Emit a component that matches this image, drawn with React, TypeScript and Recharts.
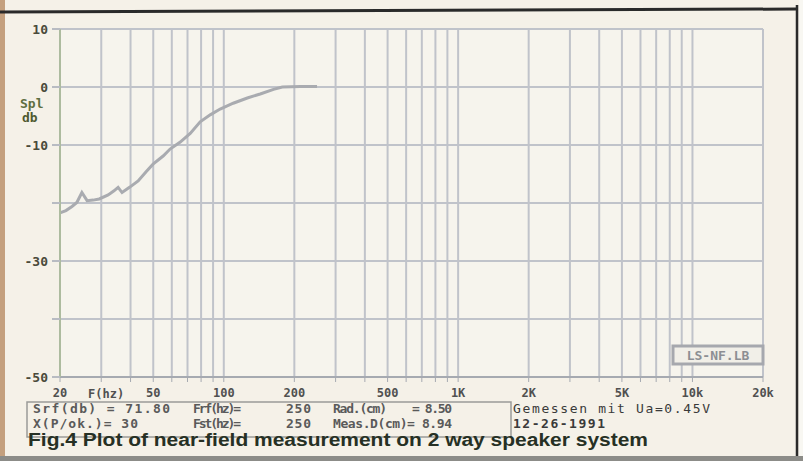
import React from 'react';
import { LineChart, Line, XAxis, YAxis, CartesianGrid } from 'recharts';

const freqHz = [20, 21.2, 22.5, 23.6, 24.8, 26.1, 27.7, 29.4, 32.1, 34.0, 35.4, 36.8, 39.6, 43.1, 46.6, 49.9, 55.1, 59, 65.2, 71.9, 79.3, 87.5, 96.5, 109.7, 126, 143, 163, 177.7, 212, 250];
const splDb = [-21.7, -21.3, -20.6, -19.9, -18.2, -19.6, -19.5, -19.3, -18.6, -17.9, -17.3, -18.2, -17.3, -16.2, -14.6, -13.3, -11.9, -10.7, -9.5, -8.0, -6.0, -4.8, -3.8, -2.8, -1.9, -1.2, -0.4, 0, 0.1, 0.1];

const gridFreqs = [20, 30, 40, 50, 60, 70, 80, 90, 100, 200, 300, 400, 500, 600, 700, 800, 900, 1000, 2000, 3000, 4000, 5000, 6000, 7000, 8000, 9000, 10000, 20000];
const labeledFreqs = [20, 50, 100, 200, 500, 1000, 2000, 5000, 10000, 20000];
const freqLabels = ['20', '50', '100', '200', '500', '1K', '2K', '5K', '10k', '20k'];
const dbTicks = [10, 0, -10, -20, -30, -40, -50];
const dbLabeled = [10, 0, -10, -30, -50];

const data = freqHz.map((f, i) => ({ f, db: splDb[i] }));

const mono = '"DejaVu Sans Mono", monospace';

const xFmt = (v: number) => {
  const i = labeledFreqs.indexOf(v);
  return i >= 0 ? freqLabels[i] : '';
};
const yFmt = (v: number) => (dbLabeled.includes(v) ? String(v) : '');

export default function App() {
  return (
    <div style={{ position: 'fixed', left: 0, top: 0, width: 803, height: 461, background: '#f5f1e8', overflow: 'hidden' }}>
      <div style={{ position: 'absolute', left: 0, top: 0 }}>
        <LineChart width={803} height={461} data={data} margin={{ top: 29, right: 40, bottom: 0, left: 0 }}>
          <CartesianGrid stroke="#c0c3ca" strokeWidth={2} fill="#f6f4ed" />
          <XAxis
            dataKey="f"
            type="number"
            scale="log"
            domain={[20, 20000]}
            allowDataOverflow
            ticks={gridFreqs}
            interval={0}
            tickFormatter={xFmt}
            height={84}
            tickSize={5}
            tickMargin={6}
            axisLine={{ stroke: '#a6aab1', strokeWidth: 2 }}
            tickLine={{ stroke: '#a6aab1' }}
            tick={{ fill: '#505050', fontFamily: mono, fontWeight: 'bold', fontSize: 12 }}
          />
          <YAxis
            type="number"
            domain={[-50, 10]}
            ticks={dbTicks}
            interval={0}
            tickFormatter={yFmt}
            width={60}
            tickSize={8}
            tickMargin={4}
            axisLine={{ stroke: '#adbb9f', strokeWidth: 2 }}
            tickLine={{ stroke: '#b8bbc2', strokeWidth: 2 }}
            tick={{ fill: '#4a4a3a', fontFamily: mono, fontWeight: 'bold', fontSize: 13 }}
          />
          <Line dataKey="db" type="linear" stroke="#a9abb0" strokeWidth={3} dot={false} isAnimationActive={false} />
        </LineChart>
      </div>
      <svg width={803} height={461} style={{ position: 'absolute', left: 0, top: 0, pointerEvents: 'none' }}>
        <rect x={0} y={0} width={5} height={461} fill="#c4a07e" />
        <line x1={0} y1={12} x2={796} y2={9} stroke="#2a2a2a" strokeWidth={3} />
        <line x1={797} y1={5} x2={797} y2={457} stroke="#2a2a2a" strokeWidth={2.5} />
        <rect x={799} y={0} width={4} height={461} fill="#f8f7f2" />
        <rect x={0} y={456} width={803} height={5} fill="#8c8c88" />
        <text x={20} y={108} fontFamily={mono} fontWeight="bold" fontSize={13} fill="#5e6e40">Spl</text>
        <text x={22} y={122} fontFamily={mono} fontWeight="bold" fontSize={13} fill="#4e5a30">db</text>
        <text x={88} y={398} fontFamily={mono} fontWeight="bold" fontSize={12} fill="#505050">F(hz)</text>
        <rect x={673} y={346} width={90} height={18} fill="#f1efe8" stroke="#a6a8ae" strokeWidth={3} />
        <text x={718} y={360} textAnchor="middle" fontFamily={mono} fontWeight="bold" fontSize={13} fill="#8c8e93">LS-NF.LB</text>
        <rect x={27} y={402} width={484} height={35} fill="none" stroke="#9a9a98" strokeWidth={1.5} />
        <g fontFamily={mono} fontWeight="bold" fontSize={13} fill="#5a5a5a">
          <text x={33} y={413} textLength={137} lengthAdjust="spacing">Srf(db) = 71.80</text>
          <text x={193} y={413} textLength={48} lengthAdjust="spacing">Frf(hz)=</text>
          <text x={286} y={413} textLength={25} lengthAdjust="spacing">250</text>
          <text x={333} y={413} textLength={54} lengthAdjust="spacing">Rad.(cm)</text>
          <text x={412} y={413} textLength={40} lengthAdjust="spacing">= 8.50</text>
          <text x={33} y={428} textLength={105} lengthAdjust="spacing">X(P/ok.)= 30</text>
          <text x={193} y={428} textLength={48} lengthAdjust="spacing">Fst(hz)=</text>
          <text x={286} y={428} textLength={25} lengthAdjust="spacing">250</text>
          <text x={333} y={428} textLength={119} lengthAdjust="spacing">Meas.D(cm)= 8.94</text>
          <text x={513} y={428} textLength={92} lengthAdjust="spacing" fill="#3a3a3a">12-26-1991</text>
        </g>
        <text x={513} y={413} fontFamily={mono} fontSize={13} fill="#3a3a3a" textLength={197} lengthAdjust="spacing">Gemessen mit Ua=0.45V</text>
        <text x={28} y={446} fontFamily='"Liberation Sans", Arial, sans-serif' fontWeight="bold" fontSize={18} fill="#263024" textLength={620} lengthAdjust="spacingAndGlyphs">Fig.4 Plot of near-field measurement on 2 way speaker system</text>
      </svg>
    </div>
  );
}
